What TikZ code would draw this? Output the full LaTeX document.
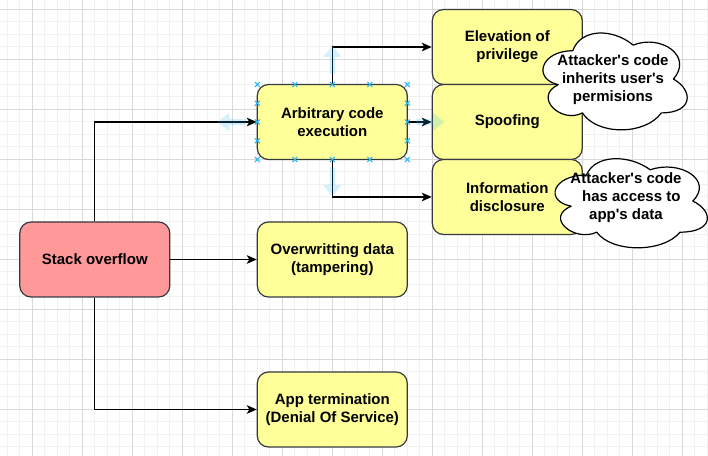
\documentclass[tikz,border=0pt]{standalone}
\usepackage{fontspec}
\setmainfont{Liberation Sans}
\usetikzlibrary{arrows.meta}
\definecolor{ylw}{HTML}{FFFF99}
\definecolor{pnk}{HTML}{FF9999}
\definecolor{edge}{HTML}{36393D}
\definecolor{gmin}{HTML}{F1F1F1}
\definecolor{gmaj}{HTML}{D9D9D9}
\definecolor{selb}{HTML}{29B6F2}
\newcommand\cloudshape[4]{%
 \begin{scope}[shift={(#1,#2)}, xscale=#3, yscale=#4]
 \filldraw[cloudline] (0.25,0.25)
 .. controls (0.05,0.25) and (0,0.5) .. (0.16,0.55)
 .. controls (0,0.66) and (0.18,0.9) .. (0.31,0.8)
 .. controls (0.4,1) and (0.7,1) .. (0.8,0.8)
 .. controls (1,0.8) and (1,0.6) .. (0.875,0.5)
 .. controls (1,0.3) and (0.8,0.1) .. (0.625,0.2)
 .. controls (0.5,0.05) and (0.3,0.05) .. (0.25,0.25) -- cycle;
 \end{scope}}
\newcommand\hoverarrow[3]{%
 \fill[hover,shift={(#1,#2)},rotate=#3] (0,-2.8) -- (17,-2.8) -- (17,-9) -- (28.5,0) -- (17,9) -- (17,2.8) -- (0,2.8) -- cycle;}
\tikzset{
  box/.style={draw=edge, line width=0.9pt, rounded corners=8.4pt, minimum width=112.5pt, minimum height=56.25pt,
    align=center, font=\fontsize{11.25pt}{13.5pt}\selectfont\bfseries, inner sep=0pt},
  ybox/.style={box, fill=ylw},
  rbox/.style={box, fill=pnk},
  conn/.style={draw=black, line width=0.9pt, -{Stealth[length=7.5pt, width=6.5pt, inset=2pt]}},
  cloudline/.style={draw=black, fill=white, line width=0.9pt, line join=round},
  cloudtext/.style={align=center, font=\fontsize{11.25pt}{13.5pt}\selectfont\bfseries, inner sep=0pt},
  hover/.style={fill=selb, fill opacity=0.2},
  selx/.style={draw=selb, line width=0.8pt},
}
\begin{document}
\begin{tikzpicture}[x=0.75pt, y=-0.75pt]
\useasboundingbox (0,0) rectangle (708,456);
\fill[white] (0,0) rectangle (708,456);
% grid
\foreach \i in {0,...,56} { \draw[gmin, line width=0.75pt] ({7.3+12.5*\i},0) -- ({7.3+12.5*\i},456); }
\foreach \j in {0,...,37} { \draw[gmin, line width=0.75pt] (0,{-3+12.5*\j}) -- (708,{-3+12.5*\j}); }
\foreach \i in {0,...,13} { \draw[gmaj, line width=0.75pt] ({32.3+50*\i},0) -- ({32.3+50*\i},456); }
\foreach \j in {0,...,9} { \draw[gmaj, line width=0.75pt] (0,{9.5+50*\j}) -- (708,{9.5+50*\j}); }
% nodes
\node[rbox] (so) at (94.8,259.5) {Stack overflow};
\node[ybox] (ace) at (332.3,122) {Arbitrary code\\execution};
\node[ybox] (ow) at (332.3,259.5) {Overwritting data\\(tampering)};
\node[ybox] (app) at (332.3,409.5) {App termination\\(Denial Of Service)};
\node[ybox] (eop) at (507.3,47) {Elevation of\\privilege};
\node[ybox] (spf) at (507.3,122) {Spoofing};
\node[ybox] (inf) at (507.3,197) {Information\\disclosure};
% connectors
\draw[conn] (so.north) |- (ace.west);
\draw[conn] (so.east) -- (ow.west);
\draw[conn] (so.south) |- (app.west);
\draw[conn] (ace.north) |- (eop.west);
\draw[conn] (ace.east) -- (spf.west);
\draw[conn] (ace.south) |- (inf.west);
% clouds
\cloudshape{532.5}{22.5}{161}{113}
\node[cloudtext] (c1) at (613,79.7) {Attacker\textquotesingle s code\\inherits user\textquotesingle s\\permisions};
\cloudshape{544}{149}{170}{104}
\node[cloudtext] (c2) at (626,197.3) {Attacker\textquotesingle s code\\\hspace*{8pt}has access to\\app\textquotesingle s data};
% selection decorations
\hoverarrow{332.3}{74}{90}
\hoverarrow{332.3}{168}{270}
\hoverarrow{246}{122}{180}
\hoverarrow{416}{122}{0}
\foreach \xx in {257.3,294.8,332.3,369.8,407.3} {
  \foreach \yy in {84.5,159.5} {
    \draw[selx] (\xx-2.5,\yy-2.5) -- (\xx+2.5,\yy+2.5) (\xx-2.5,\yy+2.5) -- (\xx+2.5,\yy-2.5);
  }
}
\foreach \xx in {257.3,407.3} {
  \foreach \yy in {103.25,122,140.75} {
    \draw[selx] (\xx-2.5,\yy-2.5) -- (\xx+2.5,\yy+2.5) (\xx-2.5,\yy+2.5) -- (\xx+2.5,\yy-2.5);
  }
}
\end{tikzpicture}
\end{document}
